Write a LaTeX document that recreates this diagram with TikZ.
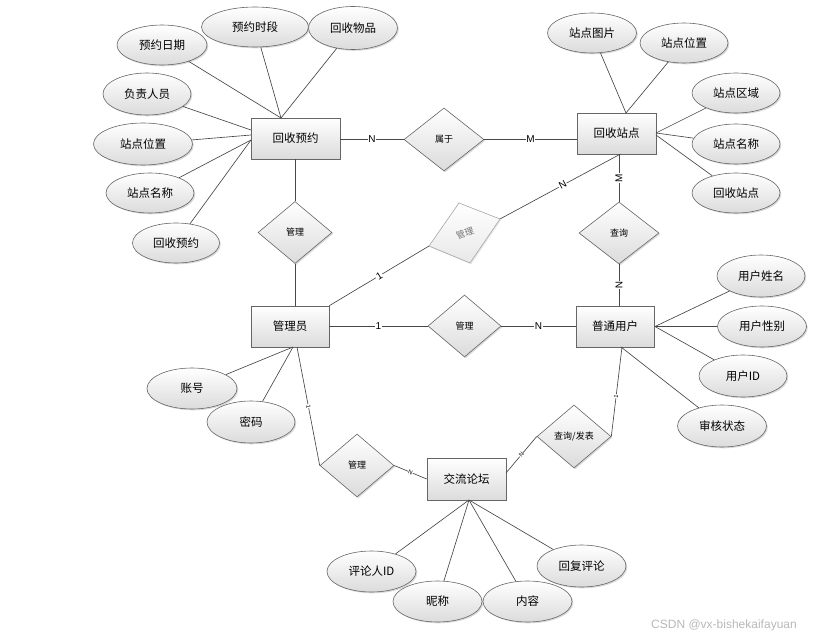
\documentclass[tikz,border=0pt]{standalone}
\usepackage{fontspec}
\setmainfont{Liberation Sans}
\newfontfamily\cjk{Noto Sans CJK SC}
\usetikzlibrary{shapes.geometric,shadows,calc}
\begin{document}
\begin{tikzpicture}[x=1pt,y=-1pt,
 ln/.style={draw=black!72,line width=0.65pt},
 base/.style={draw=black!60,line width=0.6pt,top color=white,bottom color=black!14,inner sep=0pt,
   drop shadow={shadow xshift=1.3pt,shadow yshift=-1.3pt,opacity=0.3}},
 ent/.style={base,rectangle,minimum width=79pt,minimum height=41pt,font=\cjk\fontsize{11.5}{13}\selectfont},
 attr/.style={base,ellipse,minimum width=89pt,minimum height=41pt,font=\cjk\fontsize{11.5}{13}\selectfont},
 rel/.style={base,diamond,minimum width=74pt,minimum height=63pt,font=\cjk\fontsize{9}{10}\selectfont},
 lab/.style={fill=white,inner sep=0.8pt,font=\fontsize{10}{11}\selectfont},
 tinylab/.style={fill=white,inner sep=0.3pt,font=\fontsize{6}{6}\selectfont,sloped},
]
\useasboundingbox (0,0) rectangle (815,640);

% entities
\node[ent,minimum width=89pt] (yy) at (295.5,138.5) {回收预约};
\node[ent] (zd) at (616.5,133.5) {回收站点};
\node[ent,minimum width=78pt] (gly) at (290,326.5) {管理员};
\node[ent,minimum width=78pt] (pt) at (615,326.5) {普通用户};
\node[ent,minimum height=42pt] (lt) at (466.5,479) {交流论坛};

% relations
\node[rel,minimum width=80pt] (sy) at (444,139.5) {属于};
\node[rel,minimum height=62pt] (m1) at (295,232.5) {管理};
\node[rel,minimum width=80pt,minimum height=62pt] (cx) at (619,233) {查询};
\node[rel,minimum width=73pt,minimum height=62pt] (m2) at (464.5,326) {管理};
\node[rel] (m3) at (357,465.5) {管理};
\node[rel] (cf) at (574,436.5) {查询/发表};

% grey tilted relation
\coordinate (gT) at (459,203);
\coordinate (gR) at (500,219);
\coordinate (gB) at (470,263);
\coordinate (gL) at (429,246);
\fill[black!18,opacity=0.5] ($(gT)+(1.2,1.2)$) -- ($(gR)+(1.2,1.2)$) -- ($(gB)+(1.2,1.2)$) -- ($(gL)+(1.2,1.2)$) -- cycle;
\path[draw=black!35,line width=0.6pt,top color=white,bottom color=black!9] (gT) -- (gR) -- (gB) -- (gL) -- cycle;
\node[font=\cjk\fontsize{9}{10}\selectfont,text=black!55,rotate=20] (gm) at (465,233) {管理};

% attributes of 回收预约
\node[attr,minimum width=90pt,minimum height=40pt] (a1) at (162,45) {预约日期};
\node[attr,minimum width=107pt,minimum height=40pt] (a2) at (255,27) {预约时段};
\node[attr,minimum height=43pt] (a3) at (353,28) {回收物品};
\node[attr,minimum width=88pt,minimum height=42pt] (a4) at (147,94) {负责人员};
\node[attr,minimum width=99pt,minimum height=42pt] (a5) at (143,144) {站点位置};
\node[attr,minimum width=88pt,minimum height=40pt] (a6) at (150,193) {站点名称};
\node[attr,minimum width=87pt,minimum height=40pt] (a7) at (176,243) {回收预约};
\coordinate (yyT) at (281,118);
\coordinate (yyL1) at (251,130);
\coordinate (yyL2) at (251,135);
\coordinate (yyL3) at (251,140);
\draw[ln] (a1) -- (yyT);
\draw[ln] (a2) -- (yyT);
\draw[ln] (a3) -- (yyT);
\draw[ln] (a4) -- (yyL1);
\draw[ln] (a5) -- (yyL2);
\draw[ln] (a6) -- (yyL3);
\draw[ln] (a7) -- (yyL3);

% attributes of 回收站点
\node[attr,minimum height=40pt] (b1) at (592,33) {站点图片};
\node[attr,minimum width=88pt,minimum height=40pt] (b2) at (684,43) {站点位置};
\node[attr,minimum width=88pt,minimum height=40pt] (b3) at (736,93) {站点区域};
\node[attr,minimum width=88pt,minimum height=40pt] (b4) at (736,144) {站点名称};
\node[attr,minimum width=88pt,minimum height=40pt] (b5) at (736,193) {回收站点};
\coordinate (zdT) at (626,113);
\coordinate (zdR) at (656,133);
\coordinate (zdR2) at (656,135);
\draw[ln] (b1) -- (zdT);
\draw[ln] (b2) -- (zdT);
\draw[ln] (b3) -- (zdR);
\draw[ln] (b4) -- (zdR);
\draw[ln] (b5) -- (zdR2);

% attributes of 普通用户
\node[attr,minimum width=88pt,minimum height=42pt] (c1) at (761,276) {用户姓名};
\node[attr] (c2) at (762,326.5) {用户性别};
\node[attr,minimum width=88pt,minimum height=42pt] (c3) at (743,376) {用户ID};
\node[attr,minimum height=42pt] (c4) at (722,426) {审核状态};
\coordinate (ptR) at (655,326.5);
\coordinate (ptB) at (621,347);
\draw[ln] (c1) -- (ptR);
\draw[ln] (c2) -- (ptR);
\draw[ln] (c3) -- (ptR);
\draw[ln] (c4) -- (ptB);

% attributes of 管理员
\node[attr,minimum width=90pt] (d1) at (192,388.5) {账号};
\node[attr,minimum width=88pt,minimum height=42pt] (d2) at (251,422) {密码};
\coordinate (glyB) at (293,347);
\draw[ln] (d1) -- (glyB);
\draw[ln] (d2) -- (glyB);

% attributes of 交流论坛
\node[attr] (e1) at (371.5,571.5) {评论人ID};
\node[attr] (e2) at (437.5,601.5) {昵称};
\node[attr] (e3) at (527.5,601.5) {内容};
\node[attr,minimum height=42pt] (e4) at (581.5,566) {回复评论};
\coordinate (ltB) at (469,500);
\draw[ln] (e1) -- (ltB);
\draw[ln] (e2) -- (ltB);
\draw[ln] (e3) -- (ltB);
\draw[ln] (e4) -- (ltB);

% relationship connectors
\draw[ln] (yy.east |- sy) -- node[lab]{N} (sy.west);
\draw[ln] (sy.east) -- node[lab]{M} (sy.east -| zd.west);
\draw[ln] (m1.north) -- (m1.north |- yy.south);
\draw[ln] (m1.south) -- (m1.south |- gly.north);
\draw[ln] (gly.north east) -- node[lab,sloped]{1} (gL);
\coordinate (zdB) at (620.5,154);
\draw[ln] (gR) -- node[lab,sloped,pos=0.52]{N} (zdB);
\draw[ln] (cx.north) -- node[lab,sloped]{M} (cx.north |- zd.south);
\draw[ln] (cx.south) -- node[lab,sloped]{N} (cx.south |- pt.north);
\draw[ln] (gly.east |- m2) -- node[lab]{1} (m2.west);
\draw[ln] (m2.east) -- node[lab]{N} (m2.east -| pt.west);
\coordinate (ptB2) at (622,347);
\draw[ln] (ptB2) -- node[tinylab,pos=0.55]{1} (cf.east);
\coordinate (ltR) at (506,473);
\draw[ln] (cf.west) -- node[tinylab,pos=0.5]{N} (ltR);
\coordinate (glyB2) at (297,347);
\draw[ln] (glyB2) -- node[tinylab,pos=0.5]{1} (m3.west);
\draw[ln] (m3.east) -- node[tinylab,pos=0.5]{N} (lt.west);

% watermark
\node[anchor=east,text=black!28,font=\fontsize{12}{12}\selectfont,inner sep=0pt] (wm) at (797,625) {CSDN @vx-bishekaifayuan};
\end{tikzpicture}
\end{document}
